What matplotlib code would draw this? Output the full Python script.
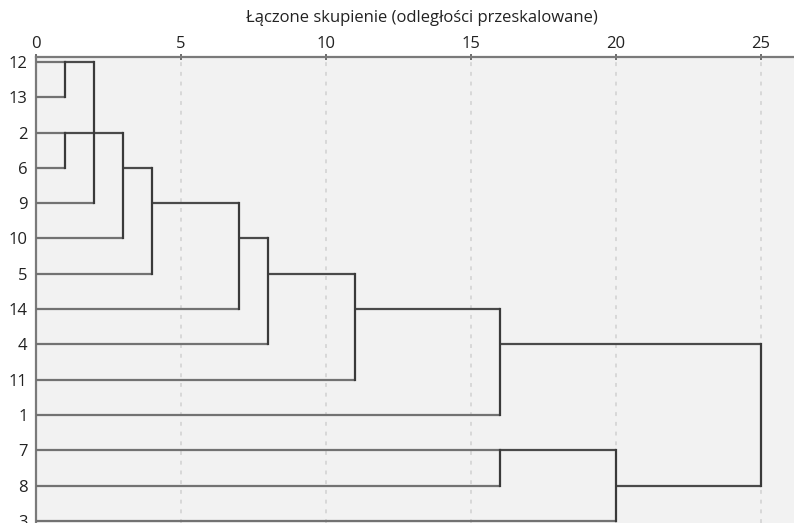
import matplotlib
matplotlib.use("Agg")
import matplotlib.pyplot as plt

# leaves in dendrogram order (top to bottom)
leaf_labels = ['12', '13', '2', '6', '9', '10', '5', '14', '4', '11', '1', '7', '8', '3']

# merges: children (leaf label or index of an earlier merge) and rescaled distance
merge_children = [['12', '13'], ['2', '6'], [0, 1, '9'], [2, '10'], [3, '5'], [4, '14'],
                  [5, '4'], [6, '11'], [7, '1'], ['7', '8'], [9, '3'], [8, 10]]
merge_heights = [1, 1, 2, 3, 4, 7, 8, 11, 16, 16, 20, 25]

x_ticks = [0, 5, 10, 15, 20, 25]
title = 'Łączone skupienie (odległości przeskalowane)'

plt.rcParams['font.family'] = ['Open Sans', 'DejaVu Sans']

fig = plt.figure(figsize=(7.94, 5.23), dpi=100)
ax = fig.add_axes([36 / 794, 0, 1 - 36 / 794, 1 - 57 / 523])
ax.set_facecolor('#f2f2f2')

# row and height of each node
node_row = {lab: i for i, lab in enumerate(leaf_labels)}
node_height = {lab: 0 for lab in leaf_labels}

for i, (children, h) in enumerate(zip(merge_children, merge_heights)):
    rows = []
    for c in children:
        r = node_row[c]
        rows.append(r)
        col = '#727272' if isinstance(c, str) else '#4a4a4a'
        ax.plot([node_height[c], h], [r, r], color=col, lw=1.6, solid_capstyle='butt', zorder=3)
    lo, hi = min(rows), max(rows)
    ax.plot([h, h], [lo, hi], color='#3a3a3a', lw=1.6, solid_capstyle='projecting', zorder=4)
    node_row[i] = (lo + hi) // 2
    node_height[i] = h

ax.set_xlim(0, (794 - 36) / 29)
ax.set_ylim(13.06, -0.14)

ax.xaxis.tick_top()
ax.set_xticks(x_ticks)
ax.tick_params(axis='x', direction='inout', length=5, width=1.2, color='#555555',
               labelsize=12, pad=1, labelcolor='#222222')
ax.set_yticks(range(len(leaf_labels)))
ax.set_yticklabels(leaf_labels)
ax.tick_params(axis='y', length=0, labelsize=12, pad=6, labelcolor='#222222')

for t in x_ticks[1:]:
    ax.axvline(t, color='#d8d8d8', lw=1.4, ls=(0, (2, 3)), zorder=1)

for s in ['right', 'bottom']:
    ax.spines[s].set_visible(False)
for s in ['top', 'left']:
    ax.spines[s].set_color('#7a7a7a')
    ax.spines[s].set_linewidth(1.6)

fig.text(422 / 794, 1 - 18 / 523, title, ha='center', va='center', fontsize=12, color='#222222')

fig.savefig('out.png', dpi=100)
